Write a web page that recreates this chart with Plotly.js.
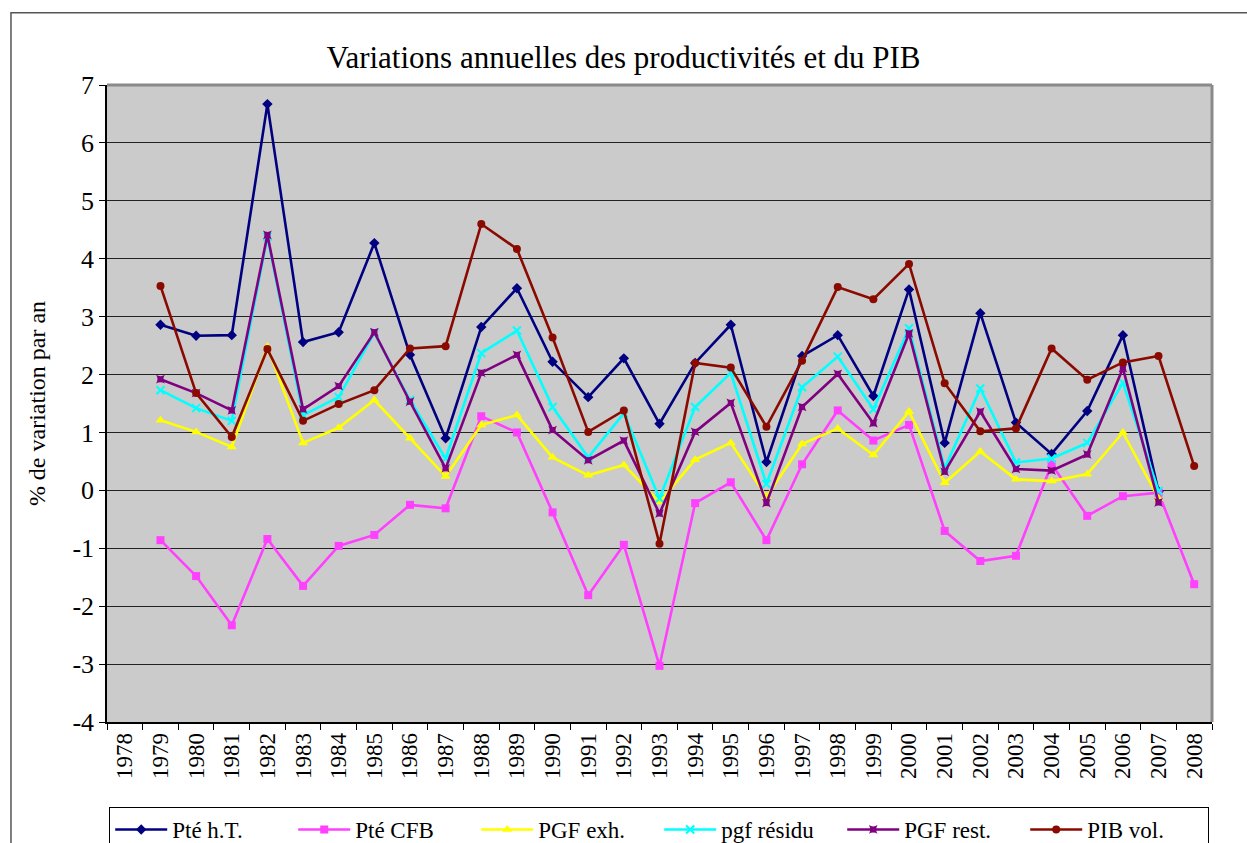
<!DOCTYPE html>
<html>
<head>
<meta charset="utf-8">
<script src="https://cdn.plot.ly/plotly-3.0.1.min.js"></script>
<style>
html,body{margin:0;padding:0;background:#fff;}
#chart{width:1247px;height:843px;}
</style>
</head>
<body>
<div id="chart"></div>
<script>
const years = ["1978","1979","1980","1981","1982","1983","1984","1985","1986","1987","1988","1989","1990","1991","1992","1993","1994","1995","1996","1997","1998","1999","2000","2001","2002","2003","2004","2005","2006","2007","2008"];

const pteHT = [null,2.86,2.67,2.68,6.67,2.56,2.73,4.27,2.34,0.90,2.82,3.49,2.22,1.61,2.28,1.15,2.20,2.86,0.49,2.32,2.68,1.63,3.47,0.82,3.06,1.17,0.63,1.37,2.68,-0.02,null];
const pteCFB = [null,-0.86,-1.48,-2.33,-0.84,-1.65,-0.96,-0.77,-0.25,-0.31,1.28,1.00,-0.38,-1.81,-0.94,-3.03,-0.22,0.14,-0.86,0.45,1.38,0.86,1.13,-0.70,-1.22,-1.13,0.45,-0.44,-0.10,-0.04,-1.62];
const pgfExh = [null,1.21,1.01,0.75,2.48,0.82,1.08,1.56,0.90,0.24,1.13,1.30,0.57,0.26,0.44,-0.20,0.53,0.82,-0.11,0.80,1.07,0.61,1.36,0.13,0.67,0.19,0.16,0.28,1.00,-0.14,null];
const pgfResidu = [null,1.73,1.42,1.20,4.38,1.30,1.61,2.72,1.56,0.55,2.37,2.76,1.44,0.57,1.33,-0.14,1.44,2.03,0.11,1.78,2.31,1.40,2.80,0.38,1.76,0.48,0.55,0.82,1.86,-0.01,null];
const pgfRest = [null,1.92,1.68,1.38,4.41,1.40,1.80,2.73,1.53,0.38,2.03,2.34,1.04,0.52,0.86,-0.40,1.01,1.51,-0.22,1.44,2.01,1.16,2.71,0.32,1.36,0.37,0.34,0.62,2.11,-0.21,null];
const pibVol = [null,3.53,1.68,0.92,2.44,1.20,1.49,1.73,2.45,2.49,4.60,4.17,2.64,1.01,1.38,-0.92,2.20,2.12,1.10,2.24,3.51,3.30,3.91,1.85,1.02,1.07,2.45,1.91,2.21,2.32,0.42];

const seriesNames = ["Pté h.T.","Pté CFB","PGF exh.","pgf résidu","PGF rest.","PIB vol."];
const yTickVals = [-4,-3,-2,-1,0,1,2,3,4,5,6,7];
const yTickText = ["-4","-3","-2","-1","0","1","2","3","4","5","6","7"];

const seriesData = [pteHT, pteCFB, pgfExh, pgfResidu, pgfRest, pibVol];
const colors = ["#000080","#FF40FF","#FFFF00","#00FFFF","#800080","#8B0A00"];
const symbols = ["diamond","square","triangle-up","x-thin","star-square","circle"];
const msizes = [8,8,9,8,8,8];

const traces = seriesData.map((d,i)=>({
  type:"scatter", mode:"lines+markers",
  x: years, y: d, name: seriesNames[i],
  line:{color:colors[i], width:2.6},
  marker:{symbol:symbols[i], size:msizes[i], color:colors[i], line:{color:colors[i], width: symbols[i]==="x-thin"?2:0}}
}));

const FF = "Liberation Serif";
const layout = {
  width:1247, height:843,
  paper_bgcolor:"#ffffff",
  plot_bgcolor:"#CBCBCB",
  margin:{l:107, r:35, t:85, b:121, autoexpand:false},
  font:{family:FF, size:22, color:"#000"},
  title:{text:"Variations annuelles des productivités et du PIB", font:{family:FF, size:31, color:"#000"}, x:0.5, xanchor:"center", y:0.932, yanchor:"middle", yref:"container"},
  showlegend:true,
  legend:{orientation:"h", x:0.002, y:-0.1334, xanchor:"left", yanchor:"top",
    bordercolor:"#000", borderwidth:1, bgcolor:"#fff",
    font:{family:FF, size:23, color:"#000"}, itemwidth:52, tracegroupgap:0,
    entrywidth:116},
  xaxis:{type:"category", categoryorder:"array", categoryarray:years,
    range:[-0.5,30.5], tickson:"boundaries", ticks:"outside", ticklen:6, tickcolor:"#000",
    tickangle:-90, tickfont:{family:FF, size:23, color:"#000"},
    showline:true, linecolor:"#000", linewidth:1.5, showgrid:false, zeroline:false, fixedrange:true},
  yaxis:{range:[-4,7], tickmode:"array", tickvals:yTickVals, ticktext:yTickText, ticks:"outside", ticklen:6, tickcolor:"#000",
    tickfont:{family:FF, size:26, color:"#000"},
    showline:true, linecolor:"#000", linewidth:1.5,
    showgrid:true, gridcolor:"#222", gridwidth:1.3, zeroline:false,
    title:{text:"% de variation par an", font:{family:FF, size:24, color:"#000"}, standoff:20},
    fixedrange:true},
  shapes:[
    {type:"line", xref:"paper", yref:"paper", x0:0, x1:1, y0:1, y1:1, line:{color:"#8a8a8a", width:3}},
    {type:"line", xref:"paper", yref:"paper", x0:1, x1:1, y0:0, y1:1, line:{color:"#8a8a8a", width:3}},
    {type:"rect", xref:"paper", yref:"paper", x0:-0.0869, x1:1.3, y0:-0.5, y1:1.1135, line:{color:"#555", width:1.5}, fillcolor:"rgba(0,0,0,0)", layer:"below"}
  ]
};

Plotly.newPlot("chart", traces, layout, {displayModeBar:false});
</script>
</body>
</html>
